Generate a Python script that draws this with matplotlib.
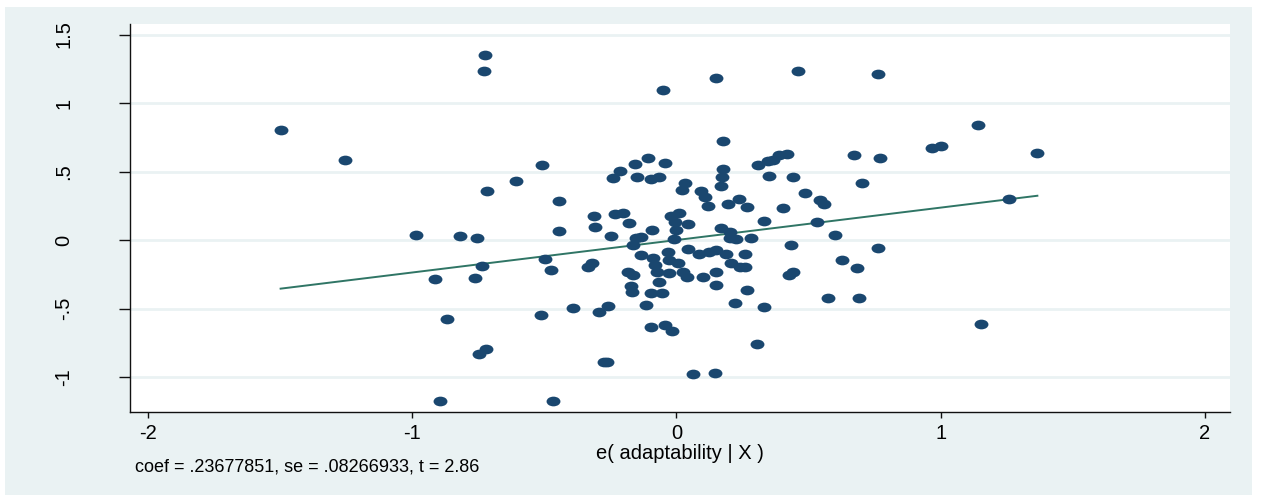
import numpy as np
import matplotlib
matplotlib.use("Agg")
import matplotlib.pyplot as plt
from matplotlib.path import Path
from matplotlib.patches import Rectangle
from matplotlib.transforms import Affine2D

plt.rcParams['font.family'] = ['Liberation Sans', 'DejaVu Sans']

# residuals
x = [-1.498, -1.256, -0.725, -0.728, -0.984, -0.820, -0.755, -0.717, -0.607, -0.508,
     -0.443, -0.443, -0.311, -0.307, -0.249, -0.231, -0.203, -0.178, -0.239, -0.213,
     -0.155, -0.107, -0.043, -0.148, -0.095, -0.067, 0.175, 0.178, 0.173, 0.168,
     0.033, 0.021, 0.093, 0.107, 0.121, 0.196, 0.235, 0.268, 0.309, 0.347,
     0.367, 0.388, 0.418, 0.350, 0.443, 0.485, 0.403, 0.331, -0.092, -0.020,
     0.011, -0.004, 0.043, -0.001, -0.153, -0.134, -0.163, -0.011, 0.170, 0.203,
     0.201, 0.226, 0.283, 0.434, -0.052, 0.150, 0.460, 0.762, 1.142, 0.969,
     1.001, 1.366, 0.672, 0.770, 0.701, 1.258, 0.545, 0.557, 0.531, 0.600,
     0.762, -0.913, -0.762, -0.735, -0.499, -0.474, -0.335, -0.319, -0.868, -0.513,
     -0.390, -0.294, -0.260, -0.749, -0.722, -0.275, -0.262, -0.896, -0.469, -0.183,
     -0.163, -0.135, -0.172, -0.168, 1.154, 0.306, 0.061, 0.146, -0.096, -0.045,
     -0.016, -0.117, 0.220, 0.330, 0.575, 0.690, 0.266, 0.627, 0.683, 0.425,
     0.443, 0.148, -0.096, -0.054, -0.067, -0.090, -0.032, 0.043, 0.085, 0.125,
     0.150, 0.186, 0.260, -0.083, -0.027, 0.005, -0.074, -0.027, 0.024, 0.039,
     0.102, 0.150, 0.208, 0.241, 0.261]
y = [0.803, 0.586, 1.350, 1.236, 0.034, 0.029, 0.017, 0.355, 0.428, 0.545,
     0.287, 0.068, 0.175, 0.095, 0.029, 0.190, 0.195, 0.126, 0.450, 0.506,
     0.555, 0.596, 0.564, 0.458, 0.448, 0.462, 0.723, 0.518, 0.460, 0.397,
     0.416, 0.365, 0.360, 0.311, 0.246, 0.260, 0.297, 0.239, 0.547, 0.577,
     0.584, 0.620, 0.628, 0.470, 0.460, 0.345, 0.236, 0.141, 0.075, 0.175,
     0.195, 0.134, 0.117, 0.073, 0.012, 0.020, -0.036, 0.005, 0.085, 0.061,
     0.015, 0.010, 0.017, -0.036, 1.095, 1.180, 1.234, 1.214, 0.839, 0.672,
     0.686, 0.635, 0.618, 0.599, 0.414, 0.302, 0.292, 0.265, 0.134, 0.034,
     -0.058, -0.282, -0.275, -0.187, -0.136, -0.219, -0.199, -0.170, -0.579, -0.550,
     -0.494, -0.523, -0.482, -0.830, -0.793, -0.893, -0.893, -1.173, -1.173, -0.231,
     -0.258, -0.112, -0.336, -0.377, -0.611, -0.761, -0.980, -0.968, -0.633, -0.620,
     -0.664, -0.474, -0.462, -0.491, -0.426, -0.426, -0.365, -0.148, -0.204, -0.255,
     -0.236, -0.328, -0.384, -0.389, -0.304, -0.134, -0.088, -0.068, -0.102, -0.085,
     -0.073, -0.102, -0.105, -0.182, -0.146, -0.170, -0.231, -0.243, -0.231, -0.268,
     -0.268, -0.234, -0.165, -0.195, -0.200]

coef = 0.23677851
se = 0.08266933
tstat = 2.86

yticks = [-1, -0.5, 0, 0.5, 1, 1.5]
yticklabels = ["-1", "-.5", "0", ".5", "1", "1.5"]
xticks = [-2, -1, 0, 1, 2]
xticklabels = ["-2", "-1", "0", "1", "2"]

x = np.array(x)
y = np.array(y)

bg = "#EAF2F3"
navy = "#1A476F"

fig = plt.figure(figsize=(12.64, 4.95), dpi=100, facecolor="white")
fig.patches.append(Rectangle((5 / 1264, 0), 1247 / 1264, 488 / 495,
                             transform=fig.transFigure, facecolor=bg,
                             edgecolor="none", zorder=-10))

ax = fig.add_axes([130 / 1264, 83 / 495, 1100 / 1264, 388 / 495])
ax.set_facecolor("white")

# stata style oval marker
ell = Path.unit_circle().transformed(Affine2D().scale(1.43, 1.0))
ax.plot(x, y, linestyle="none", marker=ell, markersize=10,
        color=navy, markeredgewidth=0, zorder=3)

xl = np.array([x.min(), x.max()])
ax.plot(xl, coef * xl, color="#2F7565", linewidth=1.4, zorder=2)

ax.set_xlim(-2.068, 2.095)
ax.set_ylim(-1.255, 1.577)
ax.set_xticks(xticks)
ax.set_xticklabels(xticklabels, fontsize=14.5)
ax.set_yticks(yticks)
ax.set_yticklabels(yticklabels, fontsize=14.5, rotation=90, va="center")

ax.grid(axis="y", color=bg, linewidth=2)
ax.set_axisbelow(True)
for s in ["top", "right"]:
    ax.spines[s].set_visible(False)
for s in ["left", "bottom"]:
    ax.spines[s].set_color("#111111")
    ax.spines[s].set_linewidth(1.0)
ax.tick_params(axis="y", length=8, width=1, color="#111111", pad=33)
ax.tick_params(axis="x", length=4.5, width=1, color="#111111", pad=4)

ax.set_xlabel("e( adaptability | X )", fontsize=14.5, labelpad=1)

fig.text(135 / 1264, 1 - 467 / 495,
         "coef = %s, se = %s, t = %.2f" % (("%.8f" % coef)[1:], ("%.8f" % se)[1:], tstat),
         fontsize=13, va="center", ha="left")

fig.savefig("out.png", dpi=100, facecolor=fig.get_facecolor())
